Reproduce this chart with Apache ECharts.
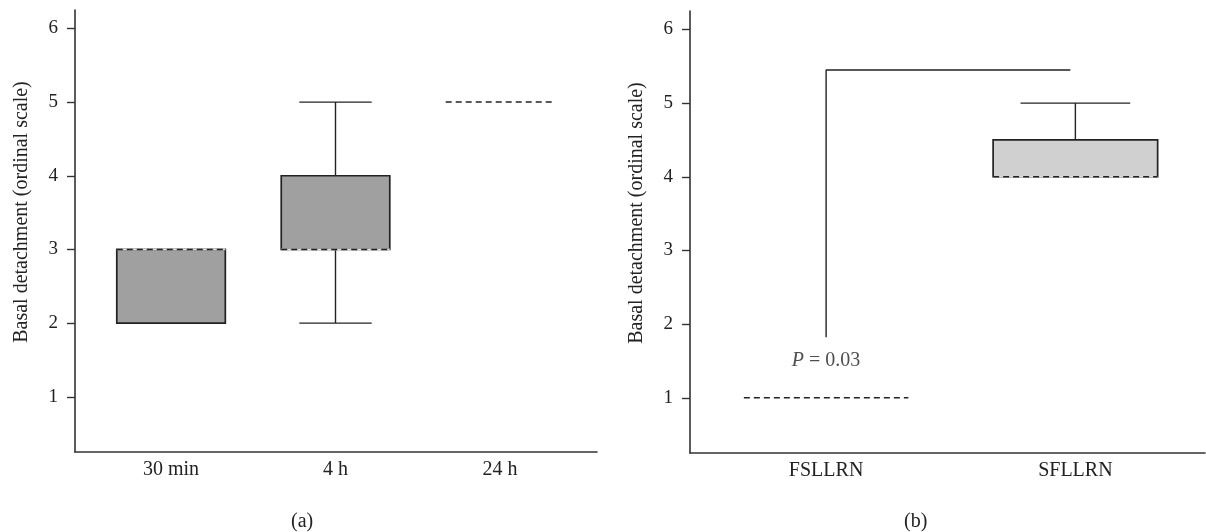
<!DOCTYPE html>
<html>
<head>
<meta charset="utf-8">
<script src="https://cdn.jsdelivr.net/npm/echarts@6/dist/echarts.min.js"></script>
<style>
  html, body { margin: 0; padding: 0; background: #fff; }
  #chart { width: 1206px; height: 532px; }
</style>
</head>
<body>
<div id="chart"></div>
<script>
// panel (a): time points, stats = [low, q1, median, q3, high]
var timeCats = ['30 min', '4 h', '24 h'];
var timeStats = [[2, 2, 3, 3, 3], [2, 3, 3, 4, 5], [5, 5, 5, 5, 5]];
// panel (b): ligands
var ligandCats = ['FSLLRN', 'SFLLRN'];
var ligandStats = [[1, 1, 1, 1, 1], [4, 4, 4, 4.5, 5]];
// y ticks and the significance bracket
var yTicks = [1, 2, 3, 4, 5, 6];
var bracket = [[1, 1.82], [1, 5.45], [1.98, 5.45]];
var pLabel = { pos: [1, 1.5], p: 'P', rest: ' = 0.03' };

var FONT = 'Liberation Serif';
var INK = '#222';

function rows(stats) {
  return stats.map(function (s, i) { return [i + 1].concat(s); });
}

//画箱体
function boxItem(fill) {
  return function (params, api) {
    var x = api.value(0), lo = api.value(1), q1 = api.value(2),
        med = api.value(3), q3 = api.value(4), hi = api.value(5);
    var bw = api.size([0.66, 0])[0];
    var cw = api.size([0.44, 0])[0];
    var pHi = api.coord([x, hi]), pQ3 = api.coord([x, q3]);
    var pQ1 = api.coord([x, q1]), pLo = api.coord([x, lo]);
    var pMed = api.coord([x, med]);
    var cx = pMed[0];
    var line = { stroke: INK, lineWidth: 1.4 };
    var kids = [];
    if (hi > q3) {
      kids.push({ type: 'line', shape: { x1: cx, y1: pQ3[1], x2: cx, y2: pHi[1] }, style: line });
      kids.push({ type: 'line', shape: { x1: cx - cw / 2, y1: pHi[1], x2: cx + cw / 2, y2: pHi[1] }, style: line });
    }
    if (lo < q1) {
      kids.push({ type: 'line', shape: { x1: cx, y1: pQ1[1], x2: cx, y2: pLo[1] }, style: line });
      kids.push({ type: 'line', shape: { x1: cx - cw / 2, y1: pLo[1], x2: cx + cw / 2, y2: pLo[1] }, style: line });
    }
    if (q3 > q1) {
      kids.push({
        type: 'rect',
        shape: { x: cx - bw / 2, y: pQ3[1], width: bw, height: pQ1[1] - pQ3[1] },
        style: { fill: fill, stroke: INK, lineWidth: 1.7 }
      });
      kids.push({ type: 'line', shape: { x1: cx - bw / 2, y1: pMed[1], x2: cx + bw / 2, y2: pMed[1] },
        style: { stroke: '#ddd', lineWidth: 1.7 } });
    }
    kids.push({
      type: 'line',
      shape: { x1: cx - bw / 2, y1: pMed[1], x2: cx + bw / 2, y2: pMed[1] },
      style: { stroke: INK, lineWidth: 1.5, lineDash: [6, 4] }
    });
    return { type: 'group', children: kids };
  };
}

function yAxis(idx) {
  return {
    type: 'value', gridIndex: idx, min: 0.25, max: 6.25,
    name: 'Basal detachment (ordinal scale)', nameLocation: 'middle', nameGap: 43,
    nameTextStyle: { fontFamily: FONT, fontSize: 20, color: INK, padding: [0, 0, 0, 38] },
    axisLine: { show: true, lineStyle: { color: '#333', width: 1.6 } },
    axisTick: { show: true, length: 8, customValues: yTicks, lineStyle: { color: '#333', width: 1.4 } },
    axisLabel: { customValues: yTicks, margin: 17, fontFamily: FONT, fontSize: 19, color: INK },
    splitLine: { show: false }
  };
}

function xAxis(idx, min, max, cats) {
  return {
    type: 'value', gridIndex: idx, min: min, max: max,
    axisLine: { show: true, onZero: false, lineStyle: { color: '#333', width: 1.6 } },
    axisTick: { show: false },
    axisLabel: {
      customValues: cats.map(function (c, i) { return i + 1; }),
      formatter: function (v) { return cats[Math.round(v) - 1]; },
      margin: 8, fontFamily: FONT, fontSize: 20, color: INK
    },
    splitLine: { show: false }
  };
}

var dom = document.getElementById('chart');
var myChart = echarts.init(dom);

var option = {
  animation: false,
  backgroundColor: '#fff',
  title: [
    { text: '(a)', left: 286, top: 507, textStyle: { fontFamily: FONT, fontSize: 20, fontWeight: 'normal', color: INK } },
    { text: '(b)', left: 899, top: 507, textStyle: { fontFamily: FONT, fontSize: 20, fontWeight: 'normal', color: INK } }
  ],
  grid: [
    { left: 75, top: 10, width: 522, height: 442 },
    { left: 690, top: 11, width: 515, height: 442 }
  ],
  xAxis: [xAxis(0, 0.416, 3.59, timeCats), xAxis(1, 0.454, 2.52, ligandCats)],
  yAxis: [yAxis(0), yAxis(1)],
  series: [
    {
      type: 'custom', xAxisIndex: 0, yAxisIndex: 0,
      renderItem: boxItem('#a0a0a0'),
      encode: { x: 0, y: [1, 2, 3, 4, 5] },
      data: rows(timeStats)
    },
    {
      type: 'custom', xAxisIndex: 1, yAxisIndex: 1,
      renderItem: boxItem('#d0d0d0'),
      encode: { x: 0, y: [1, 2, 3, 4, 5] },
      data: rows(ligandStats)
    },
    {
      type: 'line', xAxisIndex: 1, yAxisIndex: 1,
      data: bracket, symbol: 'none',
      lineStyle: { color: INK, width: 1.4 }
    },
    {
      type: 'scatter', xAxisIndex: 1, yAxisIndex: 1,
      data: [pLabel.pos], symbolSize: 0,
      label: {
        show: true, position: 'inside',
        formatter: '{i|' + pLabel.p + '}{n|' + pLabel.rest + '}',
        rich: {
          i: { fontFamily: FONT, fontSize: 20, fontStyle: 'italic', color: INK },
          n: { fontFamily: FONT, fontSize: 20, color: INK }
        }
      }
    }
  ]
};

if (option && typeof option === 'object') {
  myChart.setOption(option, true);
}
</script>
</body>
</html>
